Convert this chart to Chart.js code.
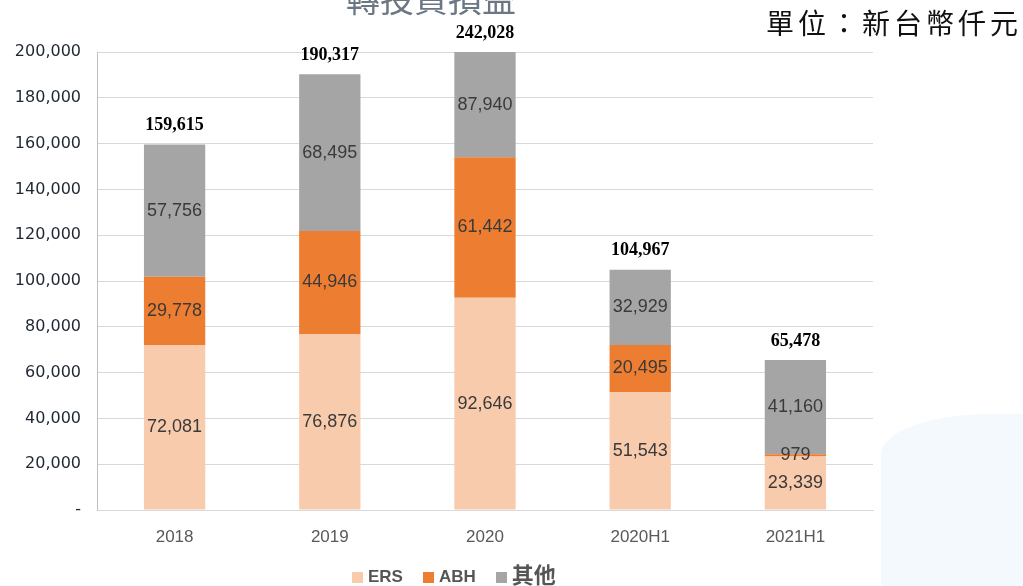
<!DOCTYPE html>
<html>
<head>
<meta charset="utf-8">
<script src="https://cdn.jsdelivr.net/npm/chart.js@4/dist/chart.umd.min.js"></script>
<style>
  html, body { margin: 0; padding: 0; background: #fff; overflow: hidden; }
  #wrap { position: relative; width: 1023px; height: 586px; }
  #deco { position: absolute; left: 881px; top: 414px; width: 142px; height: 172px;
          background: #f3f9fd; border-top-left-radius: 110px 40px; }
  #title { position: absolute; left: 0; width: 862px; top: -22px; text-align: center;
           font: 34px "Noto Sans CJK TC", sans-serif; color: #6b7783; line-height: 40px; }
  #unit { position: absolute; left: 766px; top: 2px; font: 28px "Noto Sans CJK TC", sans-serif;
          letter-spacing: 4px; color: #111; line-height: 40px; white-space: nowrap; }
  #legend { position: absolute; top: 557px; left: 352px; font: bold 17px "Liberation Sans", sans-serif;
            color: #555; white-space: nowrap; line-height: 28px; }
  #legend span.item { margin-right: 20px; }
  #legend i { display: inline-block; width: 11px; height: 11px; margin-right: 5px; vertical-align: -1px; }
  #legend .cjk { font: bold 22px "Noto Sans CJK TC", sans-serif; vertical-align: -1px; }
  canvas { position: absolute; left: 0; top: 0; }
</style>
</head>
<body>
<div id="wrap">
  <div id="deco"></div>
  <canvas id="myChart" width="1023" height="586"></canvas>
  <div id="title">轉投資損益</div>
  <div id="unit">單位：新台幣仟元</div>
  <div id="legend"></div>
</div>
<script>
const categories = ['2018', '2019', '2020', '2020H1', '2021H1'];
const seriesNames = ['ERS', 'ABH', '其他'];
const ersValues = [72081, 76876, 92646, 51543, 23339];
const abhValues = [29778, 44946, 61442, 20495, 979];
const otherValues = [57756, 68495, 87940, 32929, 41160];
const totalValues = [159615, 190317, 242028, 104967, 65478];
const seriesColors = ['#f8cbad', '#ed7d31', '#a5a5a5'];
const yTicksMax = 200000;
const yTicksStep = 20000;

function fmt(n) {
    return n.toLocaleString('en-US');
}

// Labels inside segments plus totals above bars
const labelPlugin = {
    id: 'barLabels',
    afterDatasetsDraw(chart) {
        const ctx = chart.ctx;
        const area = chart.chartArea;
        ctx.save();
        ctx.textAlign = 'center';
        ctx.textBaseline = 'middle';
        ctx.font = '18px "Liberation Sans", sans-serif';
        ctx.fillStyle = '#3a3a3a';
        chart.data.datasets.forEach(function (ds, di) {
            const meta = chart.getDatasetMeta(di);
            meta.data.forEach(function (bar, i) {
                const top = Math.max(bar.y, area.top);
                const y = (top + bar.base) / 2;
                ctx.fillText(fmt(ds.data[i]), bar.x, y);
            });
        });
        const lastMeta = chart.getDatasetMeta(chart.data.datasets.length - 1);
        ctx.font = 'bold 18px "Liberation Serif", serif';
        ctx.fillStyle = '#000';
        lastMeta.data.forEach(function (bar, i) {
            const top = Math.max(bar.y, area.top);
            ctx.fillText(fmt(totalValues[i]), bar.x, top - 19);
        });
        ctx.restore();
    }
};

const datasets = [ersValues, abhValues, otherValues].map(function (vals, i) {
    return {
        label: seriesNames[i],
        data: vals,
        backgroundColor: seriesColors[i],
        borderWidth: 0,
        categoryPercentage: 1,
        barPercentage: 0.395
    };
});

const chart = new Chart(document.getElementById('myChart').getContext('2d'), {
    type: 'bar',
    data: { labels: categories, datasets: datasets },
    plugins: [labelPlugin],
    options: {
        responsive: false,
        animation: false,
        layout: { padding: { left: 0, right: 150, top: 52, bottom: 0 } },
        plugins: { legend: { display: false }, tooltip: { enabled: false } },
        scales: {
            x: {
                stacked: true,
                grid: { display: false },
                border: { display: true, color: '#d9d9d9' },
                ticks: { color: '#595959', padding: 9, font: { size: 17, family: '"Liberation Sans", sans-serif' } },
                afterFit(scale) { scale.height = 76; }
            },
            y: {
                stacked: true,
                min: 0,
                max: yTicksMax,
                grid: { color: '#d9d9d9', drawTicks: false },
                border: { display: true, color: '#bfbfbf' },
                ticks: {
                    stepSize: yTicksStep,
                    padding: 16,
                    color: '#1f2733',
                    font: { size: 16, family: '"DejaVu Sans", sans-serif' },
                    callback: function (v) { return v === 0 ? '-' : fmt(v); }
                },
                afterFit(scale) { scale.width = 97; }
            }
        }
    }
});

// Legend
const legend = document.getElementById('legend');
seriesNames.forEach(function (name, i) {
    const item = document.createElement('span');
    item.className = 'item';
    const cls = /[^\x00-\x7f]/.test(name) ? ' class="cjk"' : '';
    item.innerHTML = `<i style="background:${seriesColors[i]}"></i><span${cls}>${name}</span>`;
    legend.appendChild(item);
});
</script>
</body>
</html>
